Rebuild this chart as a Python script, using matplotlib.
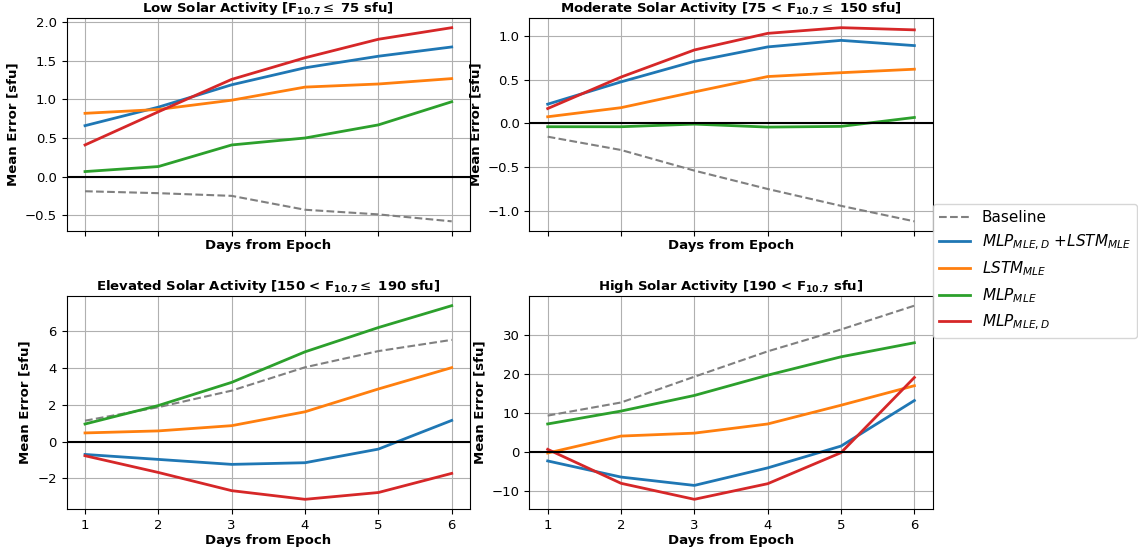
import matplotlib
matplotlib.use("Agg")
import matplotlib.pyplot as plt
import numpy as np

days = [1, 2, 3, 4, 5, 6]

titles = [
    r"Low Solar Activity [F$_{\mathbf{10.7}}\leq$ 75 sfu]",
    r"Moderate Solar Activity [75 < F$_{\mathbf{10.7}}\leq$ 150 sfu]",
    r"Elevated Solar Activity [150 < F$_{\mathbf{10.7}}\leq$ 190 sfu]",
    r"High Solar Activity [190 < F$_{\mathbf{10.7}}$ sfu]",
]

# Low activity
low_baseline = [-0.19, -0.215, -0.25, -0.43, -0.49, -0.58]
low_combo = [0.66, 0.90, 1.19, 1.41, 1.56, 1.68]
low_lstm = [0.82, 0.87, 0.99, 1.16, 1.20, 1.27]
low_mlp = [0.065, 0.13, 0.41, 0.50, 0.67, 0.97]
low_mlpd = [0.41, 0.84, 1.26, 1.54, 1.78, 1.93]

# Moderate activity
mod_baseline = [-0.152, -0.304, -0.54, -0.75, -0.943, -1.12]
mod_combo = [0.22, 0.475, 0.71, 0.875, 0.95, 0.89]
mod_lstm = [0.076, 0.18, 0.36, 0.536, 0.58, 0.62]
mod_mlp = [-0.038, -0.038, -0.008, -0.042, -0.034, 0.068]
mod_mlpd = [0.17, 0.53, 0.84, 1.03, 1.095, 1.07]

# Elevated activity
elev_baseline = [1.135, 1.87, 2.77, 4.04, 4.92, 5.53]
elev_combo = [-0.70, -0.97, -1.24, -1.15, -0.41, 1.15]
elev_lstm = [0.47, 0.58, 0.865, 1.62, 2.86, 4.02]
elev_mlp = [0.955, 1.96, 3.22, 4.88, 6.2, 7.39]
elev_mlpd = [-0.77, -1.68, -2.67, -3.14, -2.77, -1.73]

# High activity
high_baseline = [9.24, 12.6, 19.2, 25.7, 31.3, 37.4]
high_combo = [-2.37, -6.5, -8.64, -4.15, 1.44, 13.1]
high_lstm = [-0.34, 4.0, 4.75, 7.1, 11.9, 16.9]
high_mlp = [7.1, 10.4, 14.4, 19.6, 24.3, 27.9]
high_mlpd = [0.6, -8.1, -12.2, -8.2, -0.25, 19.0]

labels = [
    "Baseline",
    r"$MLP_{MLE,D}$ +$LSTM_{MLE}$",
    r"$LSTM_{MLE}$",
    r"$MLP_{MLE}$",
    r"$MLP_{MLE,D}$",
]

panels = [
    (low_baseline, low_combo, low_lstm, low_mlp, low_mlpd),
    (mod_baseline, mod_combo, mod_lstm, mod_mlp, mod_mlpd),
    (elev_baseline, elev_combo, elev_lstm, elev_mlp, elev_mlpd),
    (high_baseline, high_combo, high_lstm, high_mlp, high_mlpd),
]

colors = ["gray", "tab:blue", "tab:orange", "tab:green", "tab:red"]

fig, axes = plt.subplots(2, 2, figsize=(11.38, 5.52), dpi=100, sharex=True)
fig.subplots_adjust(left=0.0586, right=0.8196, bottom=0.0779, top=0.9674,
                    wspace=0.147, hspace=0.305)

handles = []
for ax, title, series in zip(axes.flat, titles, panels):
    hs = []
    for i, (vals, c) in enumerate(zip(series, colors)):
        if i == 0:
            h, = ax.plot(days, vals, color=c, linestyle="--", linewidth=1.5)
        else:
            h, = ax.plot(days, vals, color=c, linewidth=2)
        hs.append(h)
    handles = hs
    ax.axhline(0, color="black", linewidth=1.5)
    ax.grid(True)
    ax.set_title(title, fontsize=9.5, fontweight="bold", pad=4)
    ax.set_xlabel("Days from Epoch", fontsize=9.5, fontweight="bold", labelpad=2)
    ax.set_ylabel("Mean Error [sfu]", fontsize=9.5, fontweight="bold")
    ax.tick_params(labelsize=9.5)
    ax.xaxis.set_tick_params(labelbottom=ax in axes[1])
    ax.set_xticks(days)

fig.legend(handles, labels, loc="upper left", borderaxespad=0,
           bbox_to_anchor=(933 / 1138, 1 - 204 / 552), fontsize=11)

fig.savefig("out.png", dpi=100)
